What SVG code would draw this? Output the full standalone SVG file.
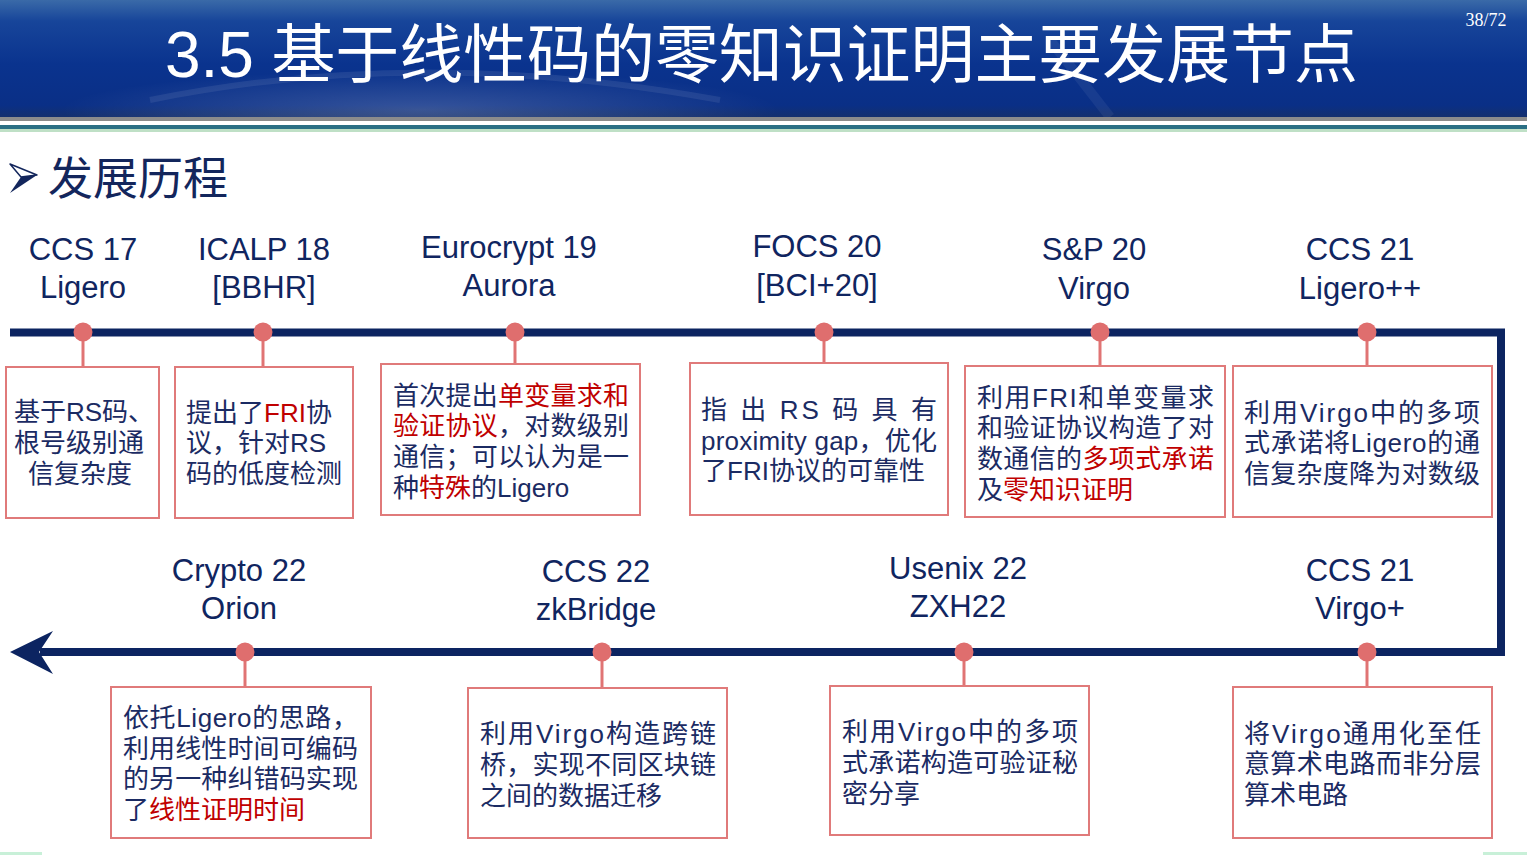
<svg xmlns="http://www.w3.org/2000/svg" width="1527" height="855" viewBox="0 0 1527 855">
  <defs>
    <linearGradient id="hdr" x1="0" y1="0" x2="0" y2="1">
      <stop offset="0" stop-color="#3a6aa8"/>
      <stop offset="0.18" stop-color="#17459a"/>
      <stop offset="0.55" stop-color="#0a338e"/>
      <stop offset="0.9" stop-color="#0a2f86"/>
      <stop offset="1" stop-color="#14306e"/>
    </linearGradient>
    <radialGradient id="glow" cx="0.5" cy="0.5" r="0.5">
      <stop offset="0" stop-color="#ffffff" stop-opacity="0.18"/>
      <stop offset="1" stop-color="#ffffff" stop-opacity="0"/>
    </radialGradient>
    <style>
      .lbl { font-family: "Liberation Sans", "Noto Sans CJK SC", sans-serif; font-size: 31px; fill: #102560; text-anchor: middle; }
      .txt { font-family: "Liberation Sans", "Noto Sans CJK SC", sans-serif; font-size: 26px; fill: #1b2b63; }
      .red { fill: #c00000; }
      .box { fill: #ffffff; stroke: #e07a7a; stroke-width: 2; }
      .stem { stroke: #e07474; stroke-width: 3; }
      .dot { fill: #df6e6e; }
      .line { fill: none; stroke: #0c2461; stroke-width: 8; stroke-linejoin: miter; }
    </style>
  </defs>

  <rect width="1527" height="855" fill="#ffffff"/>

  <!-- title banner -->
  <g id="header">
    <rect x="0" y="0" width="1527" height="117" fill="url(#hdr)"/>
    <ellipse cx="420" cy="110" rx="360" ry="40" fill="url(#glow)"/>
    <path d="M150,100 Q420,45 720,100" fill="none" stroke="#ffffff" stroke-opacity="0.08" stroke-width="6"/>
    <path d="M1050,40 L1110,117" fill="none" stroke="#ffffff" stroke-opacity="0.06" stroke-width="10"/>
    <rect x="0" y="117" width="1527" height="4" fill="#8c8c8c"/>
    <rect x="0" y="121" width="1527" height="4" fill="#ffffff"/>
    <rect x="0" y="125" width="1527" height="4" fill="#2a6f84"/>
    <rect x="0" y="129" width="1527" height="3" fill="#bfe0c6"/>
    <text x="165" y="77" font-family="Liberation Sans, Noto Sans CJK SC, sans-serif" font-size="64" fill="#ffffff" textLength="1193">3.5 基于线性码的零知识证明主要发展节点</text>
    <text x="1486" y="26" font-family="Liberation Serif, serif" font-size="18" fill="#ffffff" text-anchor="middle">38/72</text>
  </g>

  <!-- section heading -->
  <g id="heading">
    <polygon points="10,164 37,175 21,177" fill="#ffffff" stroke="#13265c" stroke-width="1.5" stroke-linejoin="round"/>
    <polygon points="21,177 37,175 10,193" fill="#13265c"/>
    <text x="48" y="195" font-family="Noto Sans CJK SC, sans-serif" font-size="45" fill="#13265c">发展历程</text>
  </g>

  <!-- timeline -->
  <g id="connectors">
    <path class="line" d="M10,332.5 H1501 V652 H40"/>
    <polygon points="10,652 53,631 39,652 53,674" fill="#0c2461"/>
  </g>

  <g id="n-ligero">
    <text class="lbl" x="83" y="260">CCS 17</text>
    <text class="lbl" x="83" y="298">Ligero</text>
    <line class="stem" x1="83" y1="332" x2="83" y2="367"/>
    <circle class="dot" cx="83" cy="332" r="9.5"/>
    <rect class="box" x="6" y="367" width="153" height="151"/>
    <text class="txt" x="14" y="421">基于RS码、</text>
    <text class="txt" x="14" y="452">根号级别通</text>
    <text class="txt" x="28" y="483">信复杂度</text>
  </g>

  <g id="n-bbhr">
    <text class="lbl" x="264" y="260">ICALP 18</text>
    <text class="lbl" x="264" y="298">[BBHR]</text>
    <line class="stem" x1="263" y1="332" x2="263" y2="367"/>
    <circle class="dot" cx="263" cy="332" r="9.5"/>
    <rect class="box" x="175" y="367" width="178" height="151"/>
    <text class="txt" x="186" y="422">提出了<tspan class="red">FRI</tspan>协</text>
    <text class="txt" x="186" y="452">议，针对RS</text>
    <text class="txt" x="186" y="483">码的低度检测</text>
  </g>

  <g id="n-aurora">
    <text class="lbl" x="509" y="258">Eurocrypt 19</text>
    <text class="lbl" x="509" y="296">Aurora</text>
    <line class="stem" x1="515" y1="332" x2="515" y2="364"/>
    <circle class="dot" cx="515" cy="332" r="9.5"/>
    <rect class="box" x="381" y="364" width="259" height="151"/>
    <text class="txt" x="393" y="405" textLength="236" lengthAdjust="spacing">首次提出<tspan class="red">单变量求和</tspan></text>
    <text class="txt" x="393" y="435" textLength="236" lengthAdjust="spacing"><tspan class="red">验证协议</tspan>，对数级别</text>
    <text class="txt" x="393" y="466" textLength="236" lengthAdjust="spacing">通信；可以认为是一</text>
    <text class="txt" x="393" y="497">种<tspan class="red">特殊</tspan>的Ligero</text>
  </g>

  <g id="n-bci20">
    <text class="lbl" x="817" y="257">FOCS 20</text>
    <text class="lbl" x="817" y="296">[BCI+20]</text>
    <line class="stem" x1="824" y1="332" x2="824" y2="363"/>
    <circle class="dot" cx="824" cy="332" r="9.5"/>
    <rect class="box" x="690" y="363" width="258" height="152"/>
    <text class="txt" x="701" y="419" textLength="236" lengthAdjust="spacing">指 出 RS 码 具 有</text>
    <text class="txt" x="701" y="450" textLength="236" lengthAdjust="spacing">proximity gap，优化</text>
    <text class="txt" x="701" y="480">了FRI协议的可靠性</text>
  </g>

  <g id="n-virgo">
    <text class="lbl" x="1094" y="260">S&amp;P 20</text>
    <text class="lbl" x="1094" y="299">Virgo</text>
    <line class="stem" x1="1100" y1="332" x2="1100" y2="366"/>
    <circle class="dot" cx="1100" cy="332" r="9.5"/>
    <rect class="box" x="965" y="366" width="260" height="151"/>
    <text class="txt" x="977" y="407" textLength="237" lengthAdjust="spacing">利用FRI和单变量求</text>
    <text class="txt" x="977" y="437" textLength="237" lengthAdjust="spacing">和验证协议构造了对</text>
    <text class="txt" x="977" y="468" textLength="237" lengthAdjust="spacing">数通信的<tspan class="red">多项式承诺</tspan></text>
    <text class="txt" x="977" y="499">及<tspan class="red">零知识证明</tspan></text>
  </g>

  <g id="n-ligeropp">
    <text class="lbl" x="1360" y="260">CCS 21</text>
    <text class="lbl" x="1360" y="299">Ligero++</text>
    <line class="stem" x1="1367" y1="332" x2="1367" y2="366"/>
    <circle class="dot" cx="1367" cy="332" r="9.5"/>
    <rect class="box" x="1233" y="366" width="259" height="151"/>
    <text class="txt" x="1244" y="422" textLength="236" lengthAdjust="spacing">利用Virgo中的多项</text>
    <text class="txt" x="1244" y="452" textLength="236" lengthAdjust="spacing">式承诺将Ligero的通</text>
    <text class="txt" x="1244" y="483" textLength="236" lengthAdjust="spacing">信复杂度降为对数级</text>
  </g>

  <g id="n-virgoplus">
    <text class="lbl" x="1360" y="581">CCS 21</text>
    <text class="lbl" x="1360" y="619">Virgo+</text>
    <line class="stem" x1="1367" y1="652" x2="1367" y2="687"/>
    <circle class="dot" cx="1367" cy="652" r="9.5"/>
    <rect class="box" x="1233" y="687" width="259" height="151"/>
    <text class="txt" x="1244" y="743" textLength="237" lengthAdjust="spacing">将Virgo通用化至任</text>
    <text class="txt" x="1244" y="773" textLength="237" lengthAdjust="spacing">意算术电路而非分层</text>
    <text class="txt" x="1244" y="804">算术电路</text>
  </g>

  <g id="n-zxh22">
    <text class="lbl" x="958" y="579">Usenix 22</text>
    <text class="lbl" x="958" y="617">ZXH22</text>
    <line class="stem" x1="964" y1="652" x2="964" y2="686"/>
    <circle class="dot" cx="964" cy="652" r="9.5"/>
    <rect class="box" x="830" y="686" width="259" height="149"/>
    <text class="txt" x="842" y="741" textLength="236" lengthAdjust="spacing">利用Virgo中的多项</text>
    <text class="txt" x="842" y="772" textLength="236" lengthAdjust="spacing">式承诺构造可验证秘</text>
    <text class="txt" x="842" y="803">密分享</text>
  </g>

  <g id="n-zkbridge">
    <text class="lbl" x="596" y="582">CCS 22</text>
    <text class="lbl" x="596" y="620">zkBridge</text>
    <line class="stem" x1="602" y1="652" x2="602" y2="688"/>
    <circle class="dot" cx="602" cy="652" r="9.5"/>
    <rect class="box" x="468" y="688" width="259" height="150"/>
    <text class="txt" x="480" y="743" textLength="236" lengthAdjust="spacing">利用Virgo构造跨链</text>
    <text class="txt" x="480" y="774" textLength="236" lengthAdjust="spacing">桥，实现不同区块链</text>
    <text class="txt" x="480" y="805">之间的数据迁移</text>
  </g>

  <g id="n-orion">
    <text class="lbl" x="239" y="581">Crypto 22</text>
    <text class="lbl" x="239" y="619">Orion</text>
    <line class="stem" x1="245" y1="652" x2="245" y2="687"/>
    <circle class="dot" cx="245" cy="652" r="9.5"/>
    <rect class="box" x="111" y="687" width="260" height="151"/>
    <text class="txt" x="123" y="727" textLength="235" lengthAdjust="spacing">依托Ligero的思路，</text>
    <text class="txt" x="123" y="758" textLength="235" lengthAdjust="spacing">利用线性时间可编码</text>
    <text class="txt" x="123" y="788" textLength="235" lengthAdjust="spacing">的另一种纠错码实现</text>
    <text class="txt" x="123" y="819">了<tspan class="red">线性证明时间</tspan></text>
  </g>

  <!-- bottom edge strips -->
  <rect x="0" y="852" width="42" height="3" fill="#c8f0d8"/>
  <rect x="1483" y="852" width="44" height="3" fill="#c8f0d8"/>
</svg>
